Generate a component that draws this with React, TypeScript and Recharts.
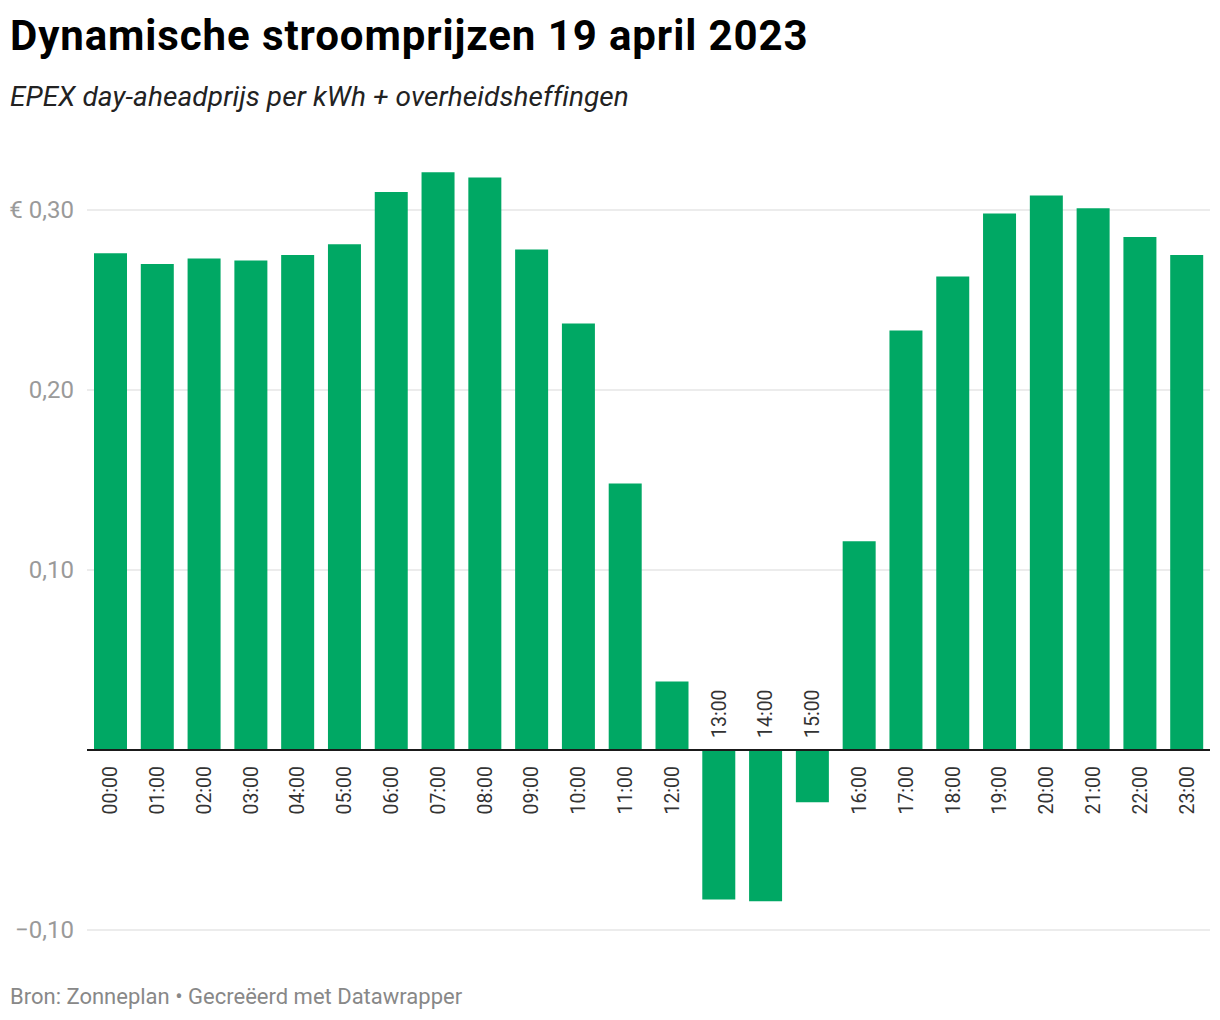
import { BarChart, Bar, XAxis, YAxis, CartesianGrid, ReferenceLine, LabelList } from "recharts"

// Hourly prices in euro per kWh
const hours = [
  "00:00", "01:00", "02:00", "03:00", "04:00", "05:00", "06:00", "07:00",
  "08:00", "09:00", "10:00", "11:00", "12:00", "13:00", "14:00", "15:00",
  "16:00", "17:00", "18:00", "19:00", "20:00", "21:00", "22:00", "23:00",
]
const prices = [
  0.276, 0.270, 0.273, 0.272, 0.275, 0.281, 0.310, 0.321,
  0.318, 0.278, 0.237, 0.148, 0.038, -0.083, -0.084, -0.029,
  0.116, 0.233, 0.263, 0.298, 0.308, 0.301, 0.285, 0.275,
]
const yTicks = [-0.1, 0.1, 0.2, 0.3]

const FONT = "Roboto, 'Noto Sans', sans-serif"
const GREEN = "#00a864"

const chartData = hours.map((hour, i) => ({ hour, price: prices[i] }))

function formatPrice(v: number) {
  const s = Math.abs(v).toFixed(2).replace(".", ",")
  if (v < 0) return "\u2212" + s
  if (v === 0.3) return "€ " + s
  return s
}

function YTick(props: any) {
  const { y, payload } = props
  return (
    <text x={74} y={y} dy="0.35em" textAnchor="end" fill="#9a9a9a" fontSize={24} fontFamily={FONT}>
      {formatPrice(payload.value)}
    </text>
  )
}

function HourLabel(props: any) {
  const vb = props.viewBox && props.viewBox.width !== undefined ? props.viewBox : props
  const x = Number(vb.x)
  const y = Number(vb.y)
  const w = Number(vb.width)
  const h = Number(vb.height)
  const idx = props.index
  const value = prices[idx]
  const cx = x + w / 2
  const positive = value >= 0
  const zero = positive ? Math.max(y, y + h) : Math.min(y, y + h)
  const ty = positive ? zero + 16 : zero - 12
  return (
    <text
      x={cx}
      y={ty}
      dy="0.35em"
      transform={`rotate(-90 ${cx} ${ty})`}
      textAnchor={positive ? "end" : "start"}
      fill="#333"
      fontSize={19.5}
      fontFamily={FONT}
    >
      {hours[idx]}
    </text>
  )
}

export default function App() {
  return (
    <div style={{ position: "absolute", left: 0, top: 0, width: 1220, height: 1020, background: "#fff", fontFamily: FONT }}>
      <div style={{ position: "absolute", left: 10, top: 15, fontSize: 42, lineHeight: 1, fontWeight: 700, letterSpacing: 0.9, color: "#000", whiteSpace: "nowrap" }}>
        Dynamische stroomprijzen 19 april 2023
      </div>
      <div style={{ position: "absolute", left: 10, top: 83, fontSize: 28, lineHeight: 1, fontStyle: "italic", letterSpacing: 0.1, color: "#222", whiteSpace: "nowrap" }}>
        EPEX day-aheadprijs per kWh + overheidsheffingen
      </div>
      <div style={{ position: "absolute", left: 0, top: 110 }}>
        <BarChart width={1220} height={850} data={chartData} margin={{ top: 10, right: 10, bottom: 30, left: 0 }}>
          <CartesianGrid vertical={false} stroke="#e6e6e6" strokeWidth={1.5} syncWithTicks />
          <XAxis dataKey="hour" hide />
          <YAxis
            width={87}
            domain={[-0.1, 0.35]}
            ticks={yTicks}
            axisLine={false}
            tickLine={false}
            tick={<YTick />}
          />
          <Bar dataKey="price" fill={GREEN} barSize={33} isAnimationActive={false}>
            <LabelList dataKey="hour" content={<HourLabel />} />
          </Bar>
          <ReferenceLine y={0} stroke="#1a1a1a" strokeWidth={2} />
        </BarChart>
      </div>
      <div style={{ position: "absolute", left: 10, top: 986, fontSize: 22, lineHeight: 1, color: "#888", whiteSpace: "nowrap" }}>
        Bron: Zonneplan • Gecreëerd met Datawrapper
      </div>
    </div>
  )
}
